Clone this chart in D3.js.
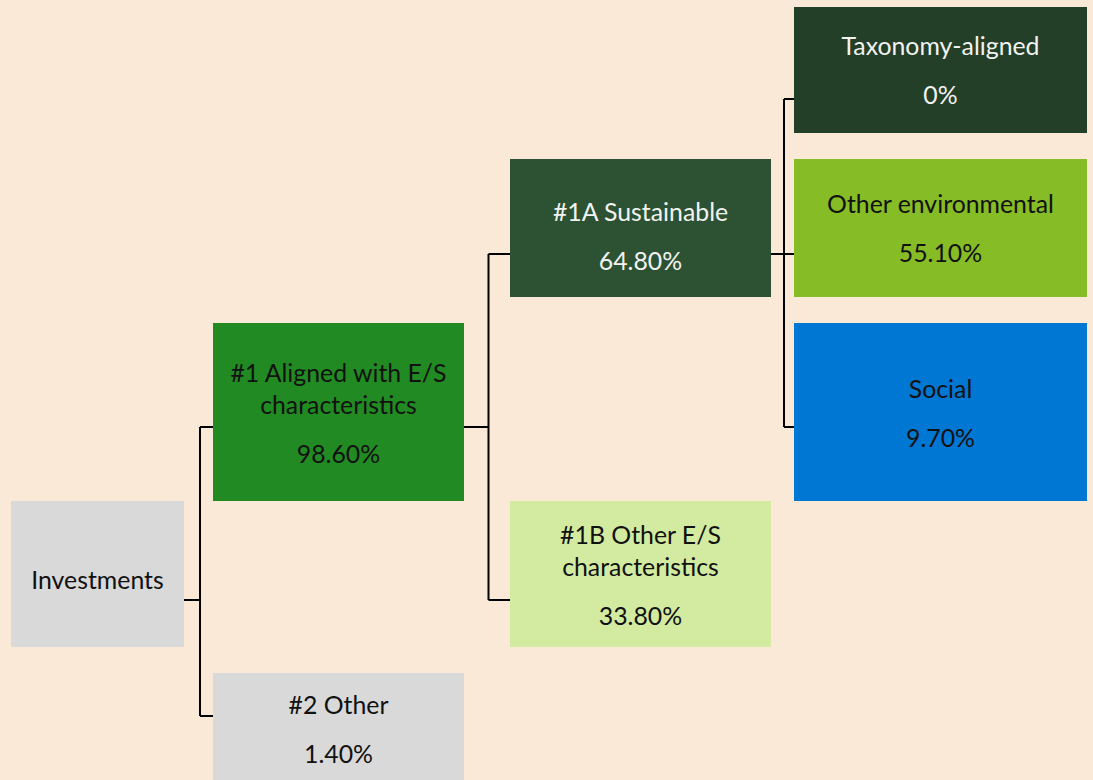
<!DOCTYPE html>
<html>
<head>
<meta charset="utf-8">
<script src="https://cdn.jsdelivr.net/npm/d3@7"></script>
<style>
  html, body { margin: 0; padding: 0; background: #FBE9D8; }
  svg { display: block; }
  text { font-family: Lato, "Open Sans", sans-serif; }
</style>
</head>
<body>
<svg id="chart" width="1093" height="780"></svg>
<script>
// ---- data ----
const nodeIds   = ["inv", "a1", "o2", "s1a", "o1b", "tax", "env", "soc"];
const parents   = [null, "inv", "inv", "a1", "a1", "s1a", "s1a", "s1a"];
const labels    = [["Investments"], ["#1 Aligned with E/S", "characteristics"], ["#2 Other"],
                   ["#1A Sustainable"], ["#1B Other E/S", "characteristics"],
                   ["Taxonomy-aligned"], ["Other environmental"], ["Social"]];
const values    = [null, 98.60, 1.40, 64.80, 33.80, 0, 55.10, 9.70];

// ---- layout / style (not data) ----
const layout = {
  inv: {x: 11,  y: 501, w: 173, h: 146, anchor: 600, base: 589, fill: "#D9D9D9", ink: "#111"},
  a1:  {x: 213, y: 323, w: 251, h: 178, anchor: 427, base: 382, fill: "#228A22", ink: "#111"},
  o2:  {x: 213, y: 673, w: 251, h: 120, anchor: 716, base: 714, fill: "#D9D9D9", ink: "#111"},
  s1a: {x: 510, y: 159, w: 261, h: 138, anchor: 254, base: 221, fill: "#2C5233", ink: "#F2F2F2"},
  o1b: {x: 510, y: 501, w: 261, h: 146, anchor: 600, base: 544, fill: "#D3EBA0", ink: "#111"},
  tax: {x: 794, y: 7,   w: 293, h: 126, anchor: 99,  base: 55,  fill: "#233F27", ink: "#F2F2F2"},
  env: {x: 794, y: 159, w: 293, h: 138, anchor: 254, base: 213, fill: "#86BC26", ink: "#111"},
  soc: {x: 794, y: 323, w: 293, h: 178, anchor: 427, base: 398, fill: "#0077D3", ink: "#111"}
};
const lineGap = 32, valueGap = 49;

const table = nodeIds.map((id, i) => ({id, parent: parents[i], label: labels[i], value: values[i]}));
const root = d3.stratify().id(d => d.id).parentId(d => d.parent)(table);
const fmt = v => v === 0 ? "0%" : d3.format(".2f")(v) + "%";

const svg = d3.select("#chart");
svg.append("rect").attr("width", 1093).attr("height", 780).attr("fill", "#FBE9D8");

// connectors
const gLinks = svg.append("g").attr("stroke", "#000").attr("stroke-width", 2).attr("fill", "none");
root.each(node => {
  if (!node.children) return;
  const p = layout[node.id];
  const kids = node.children.map(c => layout[c.id]);
  const ex = (p.x + p.w + kids[0].x) / 2 + 1.5;
  const ys = kids.map(k => k.anchor);
  const path = d3.path();
  path.moveTo(p.x + p.w, p.anchor); path.lineTo(ex, p.anchor);
  path.moveTo(ex, d3.min(ys)); path.lineTo(ex, d3.max(ys));
  kids.forEach(k => { path.moveTo(ex, k.anchor); path.lineTo(k.x, k.anchor); });
  gLinks.append("path").attr("d", path.toString());
});

// measure font size so that text width matches reference
const probe = svg.append("text").attr("font-size", 22).text("Other environmental");
const w22 = probe.node().getComputedTextLength();
probe.remove();
const fs = 22 * 227 / w22;

// boxes
const gNodes = svg.append("g");
const nodes = gNodes.selectAll("g.node").data(root.descendants()).join("g").attr("class", "node");
nodes.append("rect")
  .attr("x", d => layout[d.id].x).attr("y", d => layout[d.id].y)
  .attr("width", d => layout[d.id].w).attr("height", d => layout[d.id].h)
  .attr("fill", d => layout[d.id].fill);

nodes.each(function(d) {
  const L = layout[d.id];
  const g = d3.select(this);
  const cx = L.x + L.w / 2;
  d.data.label.forEach((t, i) => {
    g.append("text").attr("x", cx).attr("y", L.base + i * lineGap)
      .attr("text-anchor", "middle").attr("font-size", fs).attr("fill", L.ink).text(t);
  });
  if (d.data.value !== null) {
    g.append("text").attr("x", cx).attr("y", L.base + (d.data.label.length - 1) * lineGap + valueGap)
      .attr("text-anchor", "middle").attr("font-size", fs).attr("fill", L.ink).text(fmt(d.data.value));
  }
});
</script>
</body>
</html>
